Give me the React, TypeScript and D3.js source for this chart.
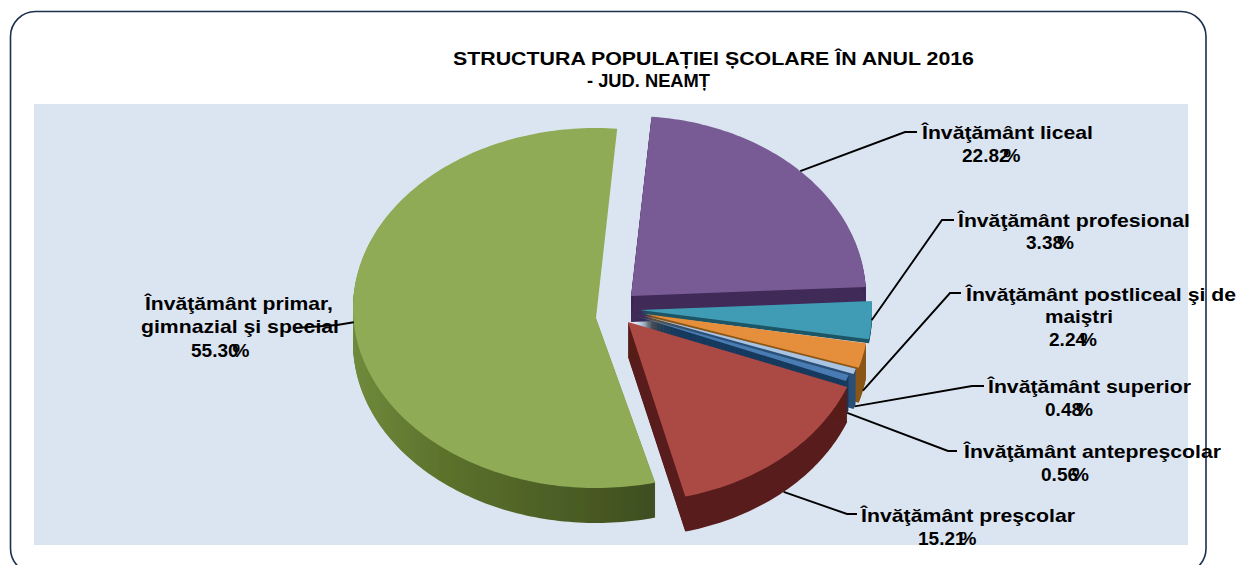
import React from 'react';
import * as d3 from 'd3';

const width = 1238;
const height = 565;

// data
const categories = [
  'Învăţământ liceal',
  'Învăţământ profesional',
  'Învăţământ postliceal şi de maiştri',
  'Învăţământ superior',
  'Învăţământ antepreşcolar',
  'Învăţământ preşcolar',
  'Învăţământ primar, gimnazial şi special',
];
const values = [22.82, 3.38, 2.24, 0.48, 0.56, 15.21, 55.3];
const valueLabels = ['22.82', '3.38', '2.24', '0.48', '0.56', '15.21', '55.30'];
const topColors = ['#785a94', '#3f9cb4', '#e58f3c', '#a9c3e2', '#4a7cb2', '#ab4845', '#8fab55'];
const wallColors = ['#3f2a58', '#1e5566', '#8a5616', '#2c5078', '#173a5e', '#581c1a', 'url(#greenWall)'];

// exploded slices do not share one centre in the original's perspective, so each gets its own
const sliceLayout = [
  { ax: 631, ay: 296, rx: 235, ry: 180, lift: 0, drop: 0, depth: 26 },
  { ax: 640, ay: 310, rx: 232, ry: 180, lift: 0, drop: 0, depth: 4 },
  { ax: 645, ay: 314, rx: 224, ry: 180, lift: 0, drop: 35, depth: 35 },
  { ax: 641, ay: 315, rx: 225, ry: 180, lift: 0, drop: 35, depth: 35 },
  { ax: 636, ay: 316, rx: 225, ry: 180, lift: 0, drop: 35, depth: 35 },
  { ax: 628, ay: 322, rx: 235, ry: 180, lift: 0, drop: 35, depth: 35 },
  { ax: 596, ay: 318, rx: 243, ry: 180, lift: 10, drop: 0, depth: 35 },
];

const labelLayout = [
  { lines: [{ t: 'Învăţământ liceal', x: 922, y: 139, w: 171 }], vx: 962, vy: 162, path: [[905, 132], [917, 132]] },
  { lines: [{ t: 'Învăţământ profesional', x: 958, y: 227, w: 232 }], vx: 1026, vy: 249, path: [[942, 220], [954, 220]] },
  { lines: [{ t: 'Învăţământ postliceal şi de', x: 966, y: 301, w: 270 }, { t: 'maiştri', x: 1045, y: 323, w: 68 }], vx: 1049, vy: 346, path: [[950, 293], [961, 293]] },
  { lines: [{ t: 'Învăţământ superior', x: 988, y: 393, w: 203 }], vx: 1045, vy: 416, path: [[972, 386], [984, 386]] },
  { lines: [{ t: 'Învăţământ antepreşcolar', x: 964, y: 458, w: 257 }], vx: 1041, vy: 481, path: [[948, 451], [957, 451]] },
  { lines: [{ t: 'Învăţământ preşcolar', x: 861, y: 522, w: 214 }], vx: 918, vy: 545, path: [[847, 514], [857, 514]] },
  { lines: [{ t: 'Învăţământ primar,', x: 145, y: 310, w: 188 }, { t: 'gimnazial şi special', x: 141, y: 333, w: 198 }], vx: 191, vy: 357, path: [[337, 325], [296, 328]] },
];

const fontFamily = '"Liberation Sans", Arial, sans-serif';

const pieGen = d3.pie<number>().sort(null).startAngle((5 * Math.PI) / 180).endAngle((365 * Math.PI) / 180);
const arcs = pieGen(values);

const rimPoint = (i: number, a: number): [number, number] => {
  const s = sliceLayout[i];
  return [s.ax + s.rx * Math.sin(a), s.ay - s.lift - s.ry * Math.cos(a)];
};

const slicePath = (i: number, endAngle: number) => {
  const s = sliceLayout[i];
  const start = arcs[i].startAngle;
  const steps = Math.max(4, Math.ceil((endAngle - start) / 0.02));
  const angle = d3.scaleLinear().domain([0, steps]).range([start, endAngle]);
  const pts: [number, number][] = [[s.ax, s.ay], ...d3.range(steps + 1).map((k) => rimPoint(i, angle(k)))];
  return d3.line()(pts) + 'Z';
};

// the green wall stops at the top of the ellipse: its far cut face is not visible
const wallEnd = (i: number) => Math.min(arcs[i].endAngle, i === 6 ? 2 * Math.PI : Infinity);

const App = () => {
  const line = d3.line();
  return (
    <svg width={width} height={height} style={{ position: 'absolute', left: 0, top: 0, background: '#fff' }}>
      <defs>
        <linearGradient id="greenWall" gradientUnits="userSpaceOnUse" x1="353" y1="0" x2="650" y2="0">
          <stop offset="0" stopColor="#6f8a3c" />
          <stop offset="0.3" stopColor="#5c722c" />
          <stop offset="1" stopColor="#3f4f20" />
        </linearGradient>
        <filter id="soft" x="-5%" y="-5%" width="110%" height="110%">
          <feGaussianBlur stdDeviation="0.6" />
        </filter>
        <clipPath id="panelClip">
          <rect x={0} y={0} width={width} height={545.5} />
        </clipPath>
      </defs>

      <rect x={34} y={104} width={1154} height={441} fill="#dbe5f1" />
      <rect x={10.5} y={11.5} width={1195.5} height={562} rx={25} ry={25} fill="none" stroke="#1b2f4f" strokeWidth={1.6} />

      <g fontFamily={fontFamily} fontWeight="bold" fontSize={18.5} fill="#000">
        <text x={453} y={65} textLength={521} lengthAdjust="spacingAndGlyphs">STRUCTURA POPULAȚIEI ȘCOLARE ÎN ANUL 2016</text>
        <text x={587} y={87} textLength={123} lengthAdjust="spacingAndGlyphs">- JUD. NEAMȚ</text>
      </g>

      <g filter="url(#soft)">
        {values.map((_, i) => (
          <g key={i}>
            {d3.range(1, sliceLayout[i].depth + 1).map((d) => (
              <path key={d} d={slicePath(i, wallEnd(i))} fill={wallColors[i]} transform={`translate(0,${d})`} />
            ))}
            <path d={slicePath(i, arcs[i].endAngle)} fill={topColors[i]} />
          </g>
        ))}
      </g>

      {labelLayout.map((l, i) => {
        const mid = (arcs[i].startAngle + arcs[i].endAngle) / 2;
        const [px, py] = rimPoint(i, mid);
        const pts = [[px, py + sliceLayout[i].drop], ...l.path] as [number, number][];
        return <path key={i} d={line(pts) as string} fill="none" stroke="#000" strokeWidth={1.9} />;
      })}

      <g fontFamily={fontFamily} fontWeight="bold" fontSize={19} fill="#000" clipPath="url(#panelClip)">
        {labelLayout.map((l, i) => (
          <g key={categories[i]}>
            {l.lines.map((tl) => (
              <text key={tl.t} x={tl.x} y={tl.y} textLength={tl.w} lengthAdjust="spacingAndGlyphs">{tl.t}</text>
            ))}
            <text transform={`translate(${l.vx},${l.vy}) scale(1.03,1)`} fontSize={18.5}>
              {valueLabels[i]}
              <tspan dx={-6}>%</tspan>
            </text>
          </g>
        ))}
      </g>
    </svg>
  );
};

export default App;
